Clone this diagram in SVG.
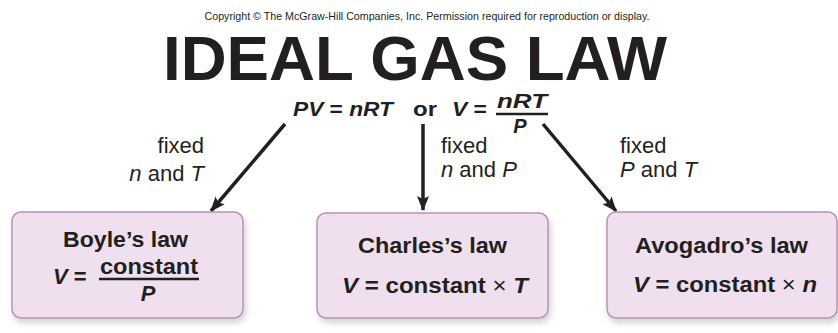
<svg xmlns="http://www.w3.org/2000/svg" width="838" height="333" viewBox="0 0 838 333">
  <style>
    .t { font-family: "Liberation Sans", Arial, sans-serif; fill: #231f20; }
    .b { font-weight: bold; }
    .i { font-style: italic; }
    .box { fill: #efdfef; stroke: #b894b2; stroke-width: 1.5; }
    .lbl { font-size: 22px; }
    .big { font-size: 22px; font-weight: bold; }
    .eq { font-size: 20px; font-weight: bold; }
    .conn { stroke: #231f20; stroke-width: 3.5; fill: none; }
  </style>
  <defs>
    <marker id="ah" markerWidth="16" markerHeight="14" refX="14" refY="7" orient="auto" markerUnits="userSpaceOnUse">
      <path d="M0,1 L15,7 L0,13 L3,7 Z" fill="#231f20"/>
    </marker>
    <filter id="sh" x="-10%" y="-10%" width="125%" height="135%">
      <feDropShadow dx="2" dy="4" stdDeviation="3" flood-color="#000" flood-opacity="0.18"/>
    </filter>
  </defs>
  <rect width="838" height="333" fill="#ffffff"/>

  <g id="copyright">
    <text class="t" x="427" y="20" font-size="11" text-anchor="middle" textLength="445" lengthAdjust="spacingAndGlyphs">Copyright © The McGraw-Hill Companies, Inc. Permission required for reproduction or display.</text>
  </g>

  <g id="title">
    <text class="t b" x="163" y="80" font-size="63" textLength="504" lengthAdjust="spacingAndGlyphs">IDEAL GAS LAW</text>
  </g>

  <g id="equation">
    <text class="t eq" x="293" y="116" textLength="100" lengthAdjust="spacingAndGlyphs"><tspan class="i">PV</tspan> = <tspan class="i">nRT</tspan></text>
    <text class="t eq" x="413" y="116" textLength="24" lengthAdjust="spacingAndGlyphs">or</text>
    <text class="t eq" x="452" y="116" textLength="35" lengthAdjust="spacingAndGlyphs"><tspan class="i">V</tspan> =</text>
    <text class="t eq i" x="497" y="108" textLength="50" lengthAdjust="spacingAndGlyphs">nRT</text>
    <line x1="496" y1="114" x2="548" y2="114" stroke="#231f20" stroke-width="2.5"/>
    <text class="t eq i" x="520" y="133" text-anchor="middle">P</text>
  </g>

  <g id="connectors">
    <line class="conn" x1="285" y1="124" x2="211" y2="211" marker-end="url(#ah)"/>
    <line class="conn" x1="423" y1="124" x2="423" y2="210" marker-end="url(#ah)"/>
    <line class="conn" x1="543" y1="124" x2="616" y2="211" marker-end="url(#ah)"/>
  </g>

  <g id="label-left">
    <text class="t lbl" x="204" y="153" text-anchor="end">fixed</text>
    <text class="t lbl" x="204" y="181" text-anchor="end"><tspan class="i">n</tspan> and <tspan class="i">T</tspan></text>
  </g>
  <g id="label-middle">
    <text class="t lbl" x="441" y="153">fixed</text>
    <text class="t lbl" x="441" y="177"><tspan class="i">n</tspan> and <tspan class="i">P</tspan></text>
  </g>
  <g id="label-right">
    <text class="t lbl" x="620" y="153">fixed</text>
    <text class="t lbl" x="620" y="177"><tspan class="i">P</tspan> and <tspan class="i">T</tspan></text>
  </g>

  <g id="boyle">
    <rect class="box" x="12" y="212" width="231" height="106" rx="9" filter="url(#sh)"/>
    <text class="t big" x="63" y="247" textLength="125" lengthAdjust="spacingAndGlyphs">Boyle’s law</text>
    <text class="t big" x="53" y="284"><tspan class="i">V</tspan> =</text>
    <text class="t big" x="100" y="274" textLength="98" lengthAdjust="spacingAndGlyphs">constant</text>
    <line x1="99" y1="279" x2="199" y2="279" stroke="#231f20" stroke-width="2.5"/>
    <text class="t big i" x="148" y="301" text-anchor="middle">P</text>
  </g>

  <g id="charles">
    <rect class="box" x="317" y="213" width="231" height="105" rx="9" filter="url(#sh)"/>
    <text class="t big" x="358" y="253" textLength="149" lengthAdjust="spacingAndGlyphs">Charles’s law</text>
    <text class="t big" x="342" y="293" textLength="186" lengthAdjust="spacingAndGlyphs"><tspan class="i">V</tspan> = constant <tspan font-weight="normal">×</tspan> <tspan class="i">T</tspan></text>
  </g>

  <g id="avogadro">
    <rect class="box" x="607" y="212" width="230" height="106" rx="9" filter="url(#sh)"/>
    <text class="t big" x="635" y="253" textLength="173" lengthAdjust="spacingAndGlyphs">Avogadro’s law</text>
    <text class="t big" x="633" y="292" textLength="184" lengthAdjust="spacingAndGlyphs"><tspan class="i">V</tspan> = constant <tspan font-weight="normal">×</tspan> <tspan class="i">n</tspan></text>
  </g>
</svg>
